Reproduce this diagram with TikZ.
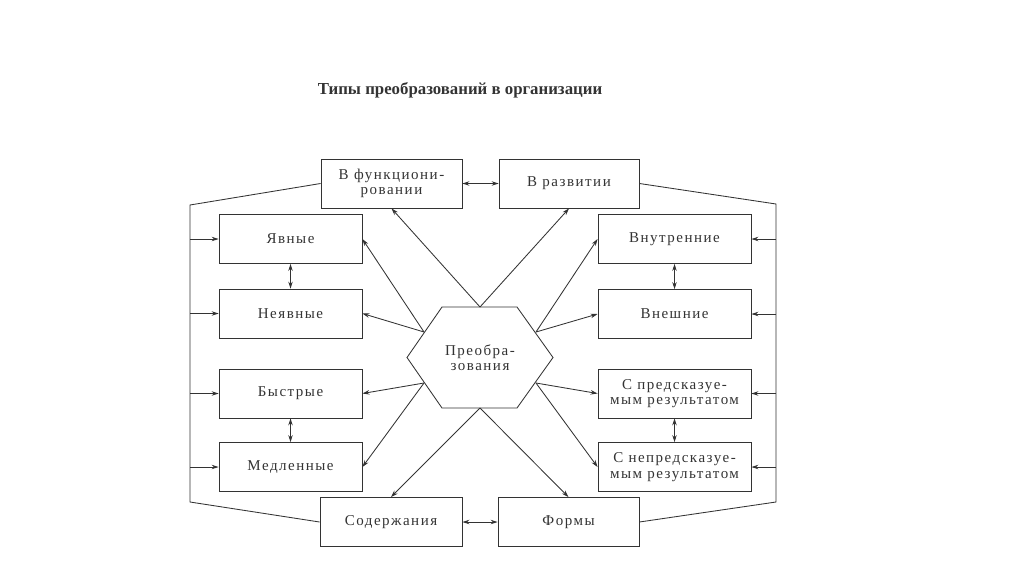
\documentclass[tikz,border=0pt]{standalone}
\usepackage{fontspec}
\setmainfont{Liberation Serif}
\newfontfamily\boxfont{Liberation Serif}[LetterSpace=10]
\usepackage{tikz}
\usetikzlibrary{arrows.meta}
\definecolor{ink}{gray}{0.2}
\newcommand*{\boxtext}{\boxfont\fontsize{15}{15.5}\selectfont}

\begin{document}
\begin{tikzpicture}[x=1pt, y=-1pt, color=ink, line width=0.85pt,
    >={Stealth[length=7pt, width=4.5pt]}]
  \useasboundingbox (0,0) rectangle (1024,576);

  \node[font=\bfseries\fontsize{16.8}{19}\selectfont] (title) at (460,90)
    {Типы преобразований в организации};

  {\tikzstyle{every node}=[draw, minimum height=49pt, inner sep=0pt,
     align=center, font=\boxtext]
    \node[minimum width=141pt] (func) at (391.5,183.5) {В функциони-\\ровании};
    \node[minimum width=140pt] (razv) at (569,183.5) {В развитии};
    \node[minimum width=142pt] (soder) at (391,522) {Содержания};
    \node[minimum width=141pt] (formy) at (568.5,522) {Формы};

    \foreach \i/\y/\t in {0/239/Явные, 1/313.5/Неявные,
                          2/393.5/Быстрые, 3/467/Медленные}
    {
      \node[minimum width=143pt] (l\i) at (290.5,\y) {\t};
    }

    \foreach \i/\y/\t in {0/239/Внутренние, 1/314/Внешние,
                          2/393.5/{С предсказуе-\\мым результатом},
                          3/467/{С непредсказуе-\\мым результатом}}
    {
      \node[minimum width=153pt] (r\i) at (674.5,\y) {\t};
    }
  }

  \node[align=center, font=\boxtext] (hex) at (480,357.5) {Преобра-\\зования};
  \draw (hex.center) ++(-73,0) -- ++(35,-50.5) -- ++(75,0) -- ++(36,50.5)
    -- ++(-36,50.5) -- ++(-75,0) -- cycle;

  \coordinate (htop) at (480,307);
  \coordinate (hbot) at (480,408);
  \coordinate (hl1) at (424,332);
  \coordinate (hl2) at (424,383);
  \coordinate (hr1) at (536,332);
  \coordinate (hr2) at (536,383);

  \coordinate (lt) at (190,205);
  \coordinate (lb) at (190,502);
  \coordinate (rt) at (776,204);
  \coordinate (rb) at (776,502);

  \draw (func.west) -- (lt) -- (lb) -- (soder.west);
  \draw (razv.east) -- (rt) -- (rb) -- (formy.east);

  \foreach \i/\p in {0/1, 1/1, 2/2, 3/2}
  {
    \draw[->] (lt |- l\i.west) -- (l\i.west);
    \draw[->] (rt |- r\i.east) -- (r\i.east);
    \draw[->] (hl\p) -- (l\i.east);
    \draw[->] (hr\p) -- (r\i.west);
  }

  \draw[->] (htop) -- (func.south);
  \draw[->] (htop) -- (razv.south);
  \draw[->] (hbot) -- (soder.north);
  \draw[->] (hbot) -- (formy.north);

  \foreach \a/\b in {func/razv, soder/formy, l0/l1, l2/l3, r0/r1, r2/r3}
  {
    \draw[<->] (\a) -- (\b);
  }
\end{tikzpicture}
\end{document}
